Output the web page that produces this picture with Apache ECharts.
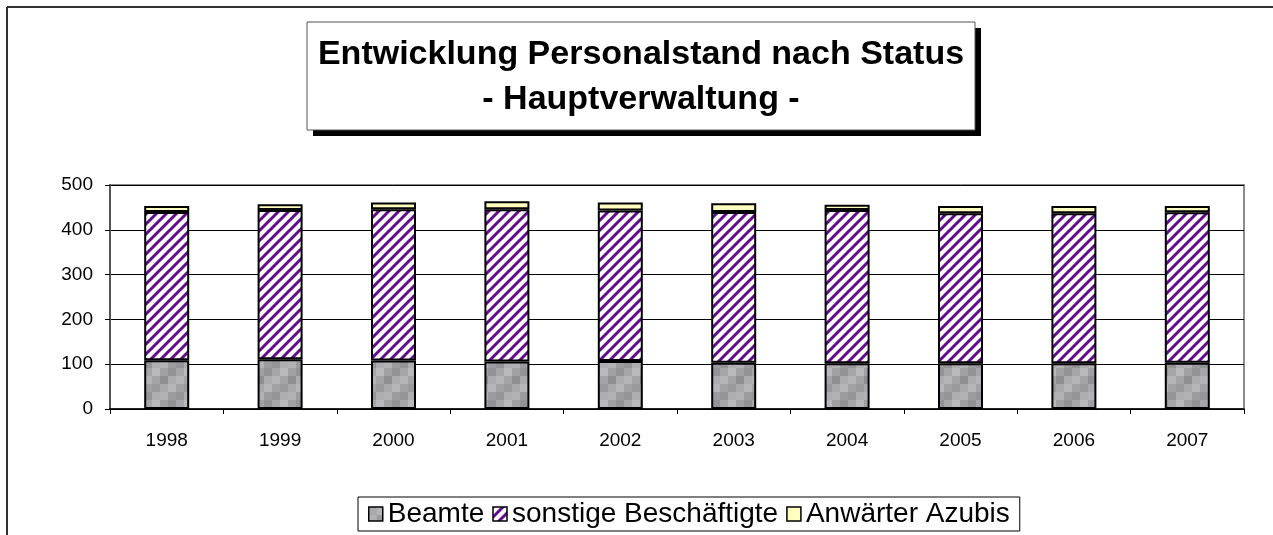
<!DOCTYPE html>
<html>
<head>
<meta charset="utf-8">
<script src="https://cdn.jsdelivr.net/npm/echarts@6/dist/echarts.min.js"></script>
<style>
  html, body { margin: 0; padding: 0; background: #fff; }
  #chart { width: 1273px; height: 535px; }
</style>
</head>
<body>
<div id="chart"></div>
<script>
// values
var years = ['1998', '1999', '2000', '2001', '2002', '2003', '2004', '2005', '2006', '2007'];
var beamte = [109, 111, 108, 106, 107, 103, 102, 102, 102, 103];
var sonstige = [331, 333, 338, 340, 336, 337, 342, 335, 335, 336];
var anwaerter = [13, 13, 15, 18, 18, 19, 12, 16, 16, 14];
var yTicks = [0, 100, 200, 300, 400, 500];

// mottled grey fill like the old excel texture
function greyTile() {
  var c = document.createElement('canvas');
  c.width = 32; c.height = 32;
  var g = c.getContext('2d');
  var shades = [
    ['#a9a9ab', '#b6b6b8', '#a2a2a4', '#9a9a9c'],
    ['#b2b2b4', '#9c9c9e', '#959597', '#aeaeb0'],
    ['#a0a0a2', '#939395', '#a6a6a8', '#b9b9bb'],
    ['#8f8f91', '#acacae', '#b4b4b6', '#a4a4a6']
  ];
  for (var r = 0; r < 4; r++) {
    for (var k = 0; k < 4; k++) {
      g.fillStyle = shades[r][k];
      g.fillRect(k * 8, r * 8, 8, 8);
    }
  }
  return c;
}

// purple "/" stripes on white
function stripeTile() {
  var c = document.createElement('canvas');
  c.width = 10; c.height = 10;
  var g = c.getContext('2d');
  g.fillStyle = '#fff';
  g.fillRect(0, 0, 10, 10);
  g.strokeStyle = '#640a8c';
  g.lineWidth = 3;
  g.beginPath();
  g.moveTo(-2, 12); g.lineTo(12, -2);
  g.moveTo(-2, 2); g.lineTo(2, -2);
  g.moveTo(8, 12); g.lineTo(12, 8);
  g.stroke();
  return c;
}

var chart = echarts.init(document.getElementById('chart'));

var barStyle = { borderColor: '#000', borderWidth: 2 };
var font = 'Liberation Sans, Arial, sans-serif';

chart.setOption({
  animation: false,
  backgroundColor: '#fff',
  textStyle: { fontFamily: font },
  grid: {
    left: 110, right: 29, top: 185, bottom: 126,
    show: true, borderColor: '#8c8c8c', borderWidth: 2
  },
  legend: {
    left: 358, top: 497,
    padding: [3, 10, 3, 10],
    borderColor: '#000', borderWidth: 1,
    itemWidth: 14, itemHeight: 14, itemGap: 8,
    icon: 'rect',
    itemStyle: { borderColor: '#000', borderWidth: 1.5 },
    textStyle: { fontSize: 28, color: '#000' },
    data: ['Beamte', 'sonstige Beschäftigte', 'Anwärter Azubis']
  },
  xAxis: {
    type: 'category',
    data: years,
    axisLine: { lineStyle: { color: '#000', width: 1.5 } },
    axisTick: { show: true, length: 5, lineStyle: { color: '#000' } },
    axisLabel: { fontSize: 19, color: '#000', margin: 22 }
  },
  yAxis: {
    type: 'value',
    min: yTicks[0], max: yTicks[yTicks.length - 1], interval: 100,
    axisLine: { show: true, lineStyle: { color: '#555', width: 2 } },
    axisTick: { show: true, length: 5, lineStyle: { color: '#000' } },
    axisLabel: { fontSize: 19, color: '#000', margin: 17 },
    splitLine: { lineStyle: { color: '#000', width: 1 } }
  },
  series: [
    {
      name: 'Beamte', type: 'bar', stack: 'a', barWidth: 45,
      data: beamte,
      itemStyle: Object.assign({ color: { image: greyTile(), repeat: 'repeat' } }, barStyle)
    },
    {
      name: 'sonstige Beschäftigte', type: 'bar', stack: 'a', barWidth: 45,
      data: sonstige,
      itemStyle: Object.assign({ color: { image: stripeTile(), repeat: 'repeat' } }, barStyle)
    },
    {
      name: 'Anwärter Azubis', type: 'bar', stack: 'a', barWidth: 45,
      data: anwaerter,
      itemStyle: Object.assign({ color: '#ffffc0' }, barStyle)
    }
  ],
  graphic: [
    // outer frame, left and top only
    { type: 'line', shape: { x1: 7, y1: 7, x2: 1273, y2: 7 }, style: { stroke: '#333', lineWidth: 2 } },
    { type: 'line', shape: { x1: 7, y1: 7, x2: 7, y2: 535 }, style: { stroke: '#333', lineWidth: 2 } },
    // title box with drop shadow
    { type: 'rect', shape: { x: 313, y: 28, width: 668, height: 108 }, style: { fill: '#000' } },
    { type: 'rect', shape: { x: 307, y: 22, width: 668, height: 108 }, style: { fill: '#fff', stroke: '#555', lineWidth: 1 } },
    {
      type: 'text', x: 641, y: 55,
      style: {
        text: 'Entwicklung Personalstand nach Status',
        fontSize: 34, fontWeight: 'bold', fill: '#000', fontFamily: font,
        align: 'center', verticalAlign: 'middle'
      }
    },
    {
      type: 'text', x: 641, y: 100,
      style: {
        text: '- Hauptverwaltung -',
        fontSize: 34, fontWeight: 'bold', fill: '#000', fontFamily: font,
        align: 'center', verticalAlign: 'middle'
      }
    }
  ]
});
</script>
</body>
</html>
